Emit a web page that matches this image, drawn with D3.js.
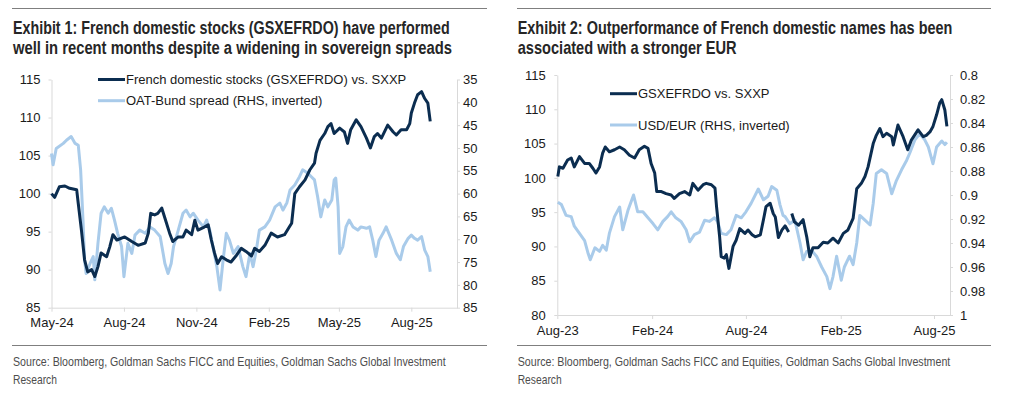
<!DOCTYPE html>
<html lang="en">
<head>
	<meta charset="utf-8">
	<title>French domestic stocks</title>
	<script src="https://d3js.org/d3.v7.min.js"></script>
	<style type="text/css">
		body { margin: 0; background: #fff; }
		svg { display: block; }
		.tick text { font-family: "Liberation Sans", Arial, sans-serif; font-size: 13px; fill: #1a1a1a; }
		.domain, .tick line { stroke: #d9d9d9; }
		.title { font-family: "Liberation Sans Narrow", "Liberation Sans", Arial, sans-serif; font-weight: bold; font-size: 17.5px; fill: #262626; }
		.source { font-family: "Liberation Sans Narrow", "Liberation Sans", Arial, sans-serif; font-size: 13px; fill: #4d4d4d; }
		.legend { font-family: "Liberation Sans", Arial, sans-serif; font-size: 13px; fill: #1a1a1a; }
	</style>
</head>
<body>
	<script type="text/javascript">

		//Exhibit 1: French domestic stocks (GSXEFRDO) vs. SXXP
		var fraDates = ["2024-05-01","2024-05-05","2024-05-11","2024-05-18","2024-05-24","2024-06-02","2024-06-04","2024-06-08","2024-06-12","2024-06-16",
			"2024-06-21","2024-06-25","2024-06-29","2024-07-03","2024-07-10","2024-07-14","2024-07-18","2024-07-23","2024-08-02","2024-08-11",
			"2024-08-19","2024-08-28","2024-09-01","2024-09-04","2024-09-09","2024-09-13","2024-09-18","2024-09-22","2024-09-28","2024-10-02",
			"2024-10-09","2024-10-15","2024-10-19","2024-10-26","2024-10-30","2024-11-03","2024-11-11","2024-11-16","2024-11-20","2024-11-24",
			"2024-11-28","2024-12-03","2024-12-09","2024-12-15","2024-12-22","2024-12-28","2025-01-03","2025-01-10","2025-01-14","2025-01-20",
			"2025-01-27","2025-02-04","2025-02-12","2025-02-21","2025-02-27","2025-03-02","2025-03-06","2025-03-12","2025-03-19","2025-03-25",
			"2025-03-31","2025-04-02","2025-04-07","2025-04-13","2025-04-17","2025-04-21","2025-04-25","2025-05-02","2025-05-08","2025-05-12",
			"2025-05-16","2025-05-23","2025-05-29","2025-06-05","2025-06-10","2025-06-15","2025-06-19","2025-06-24","2025-07-02","2025-07-09",
			"2025-07-13","2025-07-19","2025-07-26","2025-07-30","2025-08-01","2025-08-05","2025-08-09","2025-08-14","2025-08-18","2025-08-22",
			"2025-08-25"];
		var fraValues = [100.0,99.5,100.9,101.0,100.7,100.5,98.7,95.2,91.3,89.7,
			90.0,89.1,90.4,92.2,91.7,93.0,94.6,93.9,94.3,93.7,
			93.2,93.5,94.8,97.4,97.2,97.4,98.1,96.8,94.8,93.7,
			94.3,94.3,95.2,94.6,96.5,95.2,95.6,95.9,93.9,92.2,
			90.8,91.7,91.3,91.0,91.9,92.8,92.4,91.8,92.8,92.4,
			93.2,94.8,94.3,94.6,95.6,96.1,100.0,100.9,101.8,103.1,
			104.0,105.3,107.0,107.9,108.8,109.2,107.9,108.6,108.1,106.6,
			108.4,109.7,108.8,107.3,106.0,107.5,107.9,107.3,109.0,108.1,
			107.7,108.4,108.4,109.2,110.6,111.9,113.0,113.4,112.5,111.9,
			109.5];

		//OAT-Bund spread (RHS, inverted)
		var oatDates = ["2024-05-01","2024-05-03","2024-05-07","2024-05-16","2024-05-20","2024-05-26","2024-05-31","2024-06-04","2024-06-07","2024-06-10",
			"2024-06-12","2024-06-14","2024-06-19","2024-06-23","2024-06-25","2024-06-29","2024-07-03","2024-07-07","2024-07-12","2024-07-16",
			"2024-07-20","2024-07-24","2024-07-29","2024-08-01","2024-08-06","2024-08-11","2024-08-15","2024-08-21","2024-08-28","2024-09-03",
			"2024-09-09","2024-09-16","2024-09-22","2024-09-26","2024-09-30","2024-10-03","2024-10-09","2024-10-15","2024-10-19","2024-10-24",
			"2024-10-28","2024-11-03","2024-11-10","2024-11-14","2024-11-18","2024-11-22","2024-11-27","2024-12-01","2024-12-05","2024-12-09",
			"2024-12-13","2024-12-18","2024-12-24","2024-12-30","2025-01-03","2025-01-08","2025-01-12","2025-01-16","2025-01-20","2025-01-27",
			"2025-02-02","2025-02-09","2025-02-15","2025-02-19","2025-02-24","2025-02-28","2025-03-06","2025-03-12","2025-03-16","2025-03-23",
			"2025-03-27","2025-03-31","2025-04-04","2025-04-08","2025-04-13","2025-04-17","2025-04-22","2025-04-25","2025-04-27","2025-04-30",
			"2025-05-02","2025-05-06","2025-05-10","2025-05-14","2025-05-19","2025-05-25","2025-05-29","2025-06-05","2025-06-09","2025-06-13",
			"2025-06-17","2025-06-21","2025-06-26","2025-06-30","2025-07-07","2025-07-13","2025-07-18","2025-07-22","2025-07-28","2025-08-01",
			"2025-08-05","2025-08-09","2025-08-14","2025-08-18","2025-08-22","2025-08-25"];
		var oatValues = [51.2,53.7,50.1,49.0,48.3,47.5,49.0,49.4,54.8,65.8,
			74.5,77.5,75.3,73.8,78.9,70.9,64.3,62.9,64.3,63.2,
			65.8,68.7,71.6,78.2,70.9,73.1,69.1,68.0,68.7,67.3,
			68.0,69.4,75.3,77.5,75.3,71.6,68.0,64.3,63.6,65.1,
			64.3,65.8,67.3,65.8,68.0,71.6,76.0,81.1,74.5,68.7,
			70.2,73.1,71.6,76.0,78.2,73.1,76.0,72.5,68.0,67.3,
			65.8,62.9,62.1,63.6,62.0,59.2,58.1,56.3,54.8,55.6,
			56.3,57.0,60.7,65.1,61.4,62.9,61.4,57.0,56.6,62.9,
			73.1,71.6,67.3,65.8,67.3,68.0,67.3,67.6,67.3,70.2,
			73.8,70.2,68.7,67.3,70.2,73.1,74.5,71.6,69.8,69.1,
			69.8,70.2,69.4,72.4,73.8,77.1];

		//Exhibit 2: GSXEFRDO vs. SXXP (null = gap in the series)
		var gsxDates = ["2023-08-02","2023-08-05","2023-08-12","2023-08-21","2023-08-28","2023-09-03","2023-09-13","2023-09-23","2023-10-02","2023-10-09",
			"2023-10-15","2023-10-22","2023-10-28","2023-11-02","2023-11-10","2023-11-20","2023-11-30","2023-12-09","2023-12-19","2023-12-29",
			"2024-01-07","2024-01-17","2024-01-24","2024-01-30","2024-02-06","2024-02-10","2024-02-19","2024-02-28","2024-03-09","2024-03-15",
			"2024-03-25","2024-04-04","2024-04-14","2024-04-20","2024-04-30","2024-05-10","2024-05-16","2024-05-26","2024-06-02","2024-06-05",
			"2024-06-11","2024-06-14","2024-06-20","2024-06-24","2024-06-29","2024-07-07","2024-07-13","2024-07-20","2024-07-30","2024-08-05",
			"2024-08-13","2024-08-19","2024-08-29","2024-09-04","2024-09-09","2024-09-17","2024-09-23","2024-09-27","2024-10-03","2024-10-10",
			"2024-10-16","2024-10-23","2024-10-26","2024-10-29","2024-11-03","2024-11-11","2024-11-20","2024-11-27","2024-12-03","2024-12-09",
			"2024-12-19","2024-12-29","2025-01-07","2025-01-17","2025-01-27","2025-02-06","2025-02-15","2025-02-25","2025-03-04","2025-03-13",
			"2025-03-20","2025-03-26","2025-04-05","2025-04-11","2025-04-18","2025-04-24","2025-05-01","2025-05-11","2025-05-14","2025-05-23",
			"2025-06-02","2025-06-11","2025-06-18","2025-07-01","2025-07-11","2025-07-17","2025-07-24","2025-07-30","2025-08-06","2025-08-12",
			"2025-08-16","2025-08-22","2025-08-26"];
		var gsxValues = [100.2,101.6,101.4,102.6,102.9,101.6,103.1,102.1,102.1,101.4,
			100.7,101.6,103.6,104.5,103.8,104.1,104.5,104.1,103.3,102.9,
			104.1,104.6,104.3,102.1,100.7,98.0,98.0,97.7,97.5,97.0,
			97.7,98.0,97.5,99.2,98.2,99.0,99.2,99.0,98.5,95.8,
			91.4,88.5,88.3,88.8,86.8,90.0,90.9,92.6,91.9,92.4,
			91.7,91.4,91.7,93.9,95.8,96.3,94.8,94.3,91.3,92.4,
			93.0,92.1,null,94.8,93.6,93.1,93.9,91.4,88.5,89.8,
			89.8,90.6,90.5,91.2,90.5,91.9,92.4,94.1,98.4,99.2,
			100.2,101.6,105.0,106.2,107.2,106.0,106.5,106.0,104.8,107.7,
			106.0,104.1,105.5,107.0,106.0,106.2,106.7,107.5,109.2,110.9,
			111.4,109.9,107.5];

		//USD/EUR (RHS, inverted)
		var usdDates = ["2023-08-02","2023-08-09","2023-08-18","2023-08-28","2023-09-03","2023-09-13","2023-09-23","2023-09-30","2023-10-04","2023-10-13",
			"2023-10-22","2023-10-28","2023-11-04","2023-11-10","2023-11-20","2023-11-30","2023-12-06","2023-12-16","2023-12-27","2024-01-04",
			"2024-01-14","2024-01-24","2024-02-03","2024-02-12","2024-02-22","2024-03-02","2024-03-09","2024-03-18","2024-03-28","2024-04-07",
			"2024-04-14","2024-04-23","2024-05-03","2024-05-13","2024-05-22","2024-06-01","2024-06-07","2024-06-14","2024-06-24","2024-07-03",
			"2024-07-13","2024-07-23","2024-08-01","2024-08-11","2024-08-25","2024-09-04","2024-09-13","2024-09-20","2024-09-30","2024-10-06",
			"2024-10-12","2024-10-16","2024-10-25","2024-11-04","2024-11-14","2024-11-20","2024-11-27","2024-12-06","2024-12-16","2024-12-26",
			"2025-01-05","2025-01-11","2025-01-17","2025-01-24","2025-02-02","2025-02-08","2025-02-18","2025-02-25","2025-03-04","2025-03-10",
			"2025-03-20","2025-03-30","2025-04-05","2025-04-11","2025-04-21","2025-05-01","2025-05-11","2025-05-20","2025-05-30","2025-06-09",
			"2025-06-15","2025-06-25","2025-07-04","2025-07-14","2025-07-21","2025-07-30","2025-08-06","2025-08-16","2025-08-22","2025-08-26"];
		var usdValues = [0.906,0.908,0.917,0.918,0.926,0.932,0.938,0.949,0.954,0.944,
			0.947,0.942,0.946,0.932,0.918,0.910,0.929,0.913,0.900,0.914,
			0.914,0.919,0.924,0.929,0.922,0.918,0.914,0.919,0.922,0.929,
			0.939,0.933,0.931,0.921,0.922,0.919,0.922,0.932,0.933,0.929,
			0.917,0.919,0.914,0.907,0.895,0.904,0.901,0.893,0.896,0.908,
			0.917,0.918,0.924,0.921,0.940,0.954,0.947,0.946,0.951,0.960,
			0.968,0.978,0.968,0.951,0.971,0.960,0.951,0.958,0.940,0.917,
			0.921,0.925,0.907,0.882,0.879,0.882,0.899,0.888,0.879,0.871,
			0.865,0.854,0.849,0.854,0.860,0.874,0.860,0.855,0.858,0.856];

		//Tick labels
		var p1LeftTicks = [85, 90, 95, 100, 105, 110, 115];
		var p1RightTicks = [35, 40, 45, 50, 55, 60, 65, 70, 75, 80, 85];
		var p1DateTicks = ["2024-05-01","2024-08-01","2024-11-01","2025-02-01","2025-05-01","2025-08-01"];
		var p2LeftTicks = [80, 85, 90, 95, 100, 105, 110, 115];
		var p2RightTicks = [0.8, 0.82, 0.84, 0.86, 0.88, 0.9, 0.92, 0.94, 0.96, 0.98, 1];
		var p2DateTicks = ["2023-08-01","2024-02-01","2024-08-01","2025-02-01","2025-08-01"];

		var sourceLines = ["Source: Bloomberg, Goldman Sachs FICC and Equities, Goldman Sachs Global Investment", "Research"];

		var dark = "#0b2d50";
		var light = "#a9cbea";

		var parseDate = d3.timeParse("%Y-%m-%d");

		function zip(dates, values) {
			return dates.map(function(d, i) { return { date: parseDate(d), value: values[i] }; });
		}

		//squeeze a text horizontally so it spans the given width (condensed look)
		function fitText(sel, x, y, width) {
			var w = sel.node().getComputedTextLength();
			sel.attr("transform", "translate(" + x + "," + y + ") scale(" + (width / w) + ",1)");
		}

		var svg = d3.select("body")
					.append("svg")
					.attr("width", 1012)
					.attr("height", 394);

		function drawPanel(p) {
			var g = svg.append("g");

			//Rules above title and below chart
			g.append("line").attr("x1", p.ruleX1).attr("x2", p.ruleX2).attr("y1", 8.5).attr("y2", 8.5)
			 .attr("stroke", "#7f7f7f").attr("stroke-width", 1);
			g.append("line").attr("x1", p.ruleX1).attr("x2", p.ruleX2).attr("y1", 345.5).attr("y2", 345.5)
			 .attr("stroke", "#7f7f7f").attr("stroke-width", 1);

			//Title
			p.title.forEach(function(t, i) {
				var tt = g.append("text").attr("class", "title").text(t);
				fitText(tt, p.textX, 33.5 + i * 20, p.titleLen[i]);
			});

			//Source
			sourceLines.forEach(function(t, i) {
				var st = g.append("text").attr("class", "source").text(t);
				fitText(st, p.textX, 366 + i * 17.5, i == 0 ? 433 : 44);
			});

			//Scales
			var x = d3.scaleTime().domain(p.xDomain.map(parseDate)).range([p.left, p.right]);
			var yL = d3.scaleLinear().domain(p.leftDomain).range([p.bottom, p.top]);
			var yR = d3.scaleLinear().domain(p.rightDomain).range([p.bottom, p.top]);

			//Axes
			g.append("g").attr("transform", "translate(" + p.left + ",0)")
			 .call(d3.axisLeft(yL).tickValues(p.leftTicks).tickSize(3).tickSizeOuter(0).tickPadding(p.leftPad));
			g.append("g").attr("transform", "translate(" + p.right + ",0)")
			 .call(d3.axisRight(yR).tickValues(p.rightTicks).tickSize(3).tickSizeOuter(0).tickPadding(p.rightPad)
			 .tickFormat(d3.format("~g")));
			g.append("g").attr("transform", "translate(0," + p.bottom + ")")
			 .call(d3.axisBottom(x).tickValues(p.dateTicks.map(parseDate)).tickSize(4).tickSizeOuter(0)
			 .tickPadding(p.bottomPad).tickFormat(d3.timeFormat("%b-%y")));

			//Lines: secondary series first, primary on top
			var lineR = d3.line().defined(function(d) { return d.value != null; })
				.x(function(d) { return x(d.date); }).y(function(d) { return yR(d.value); });
			var lineL = d3.line().defined(function(d) { return d.value != null; })
				.x(function(d) { return x(d.date); }).y(function(d) { return yL(d.value); });

			g.append("path").datum(p.rightData).attr("d", lineR)
			 .attr("fill", "none").attr("stroke", light).attr("stroke-width", 3).attr("stroke-linejoin", "round");
			g.append("path").datum(p.leftData).attr("d", lineL)
			 .attr("fill", "none").attr("stroke", dark).attr("stroke-width", 3).attr("stroke-linejoin", "round");

			//Legend
			p.legend.forEach(function(l, i) {
				var ly = p.legendY[i];
				g.append("line").attr("x1", p.legendX).attr("x2", p.legendX + 27).attr("y1", ly).attr("y2", ly)
				 .attr("stroke", l.color).attr("stroke-width", 3);
				g.append("text").attr("class", "legend").attr("x", p.legendX + 28).attr("y", ly + 4.7).text(l.label);
			});
		}

		drawPanel({
			ruleX1: 12, ruleX2: 487, textX: 13,
			title: ["Exhibit 1: French domestic stocks (GSXEFRDO) have performed", "well in recent months despite a widening in sovereign spreads"],
			titleLen: [437, 439],
			left: 51.5, right: 457, top: 79.5, bottom: 307.7,
			xDomain: ["2024-05-01", "2025-09-28"],
			leftDomain: [85, 115], rightDomain: [85, 35],
			leftTicks: p1LeftTicks, rightTicks: p1RightTicks, dateTicks: p1DateTicks,
			leftPad: 8, rightPad: 3, bottomPad: 6,
			leftData: zip(fraDates, fraValues), rightData: zip(oatDates, oatValues),
			legendX: 98, legendY: [79.5, 100.7],
			legend: [{ label: "French domestic stocks (GSXEFRDO) vs. SXXP", color: dark },
					 { label: "OAT-Bund spread (RHS, inverted)", color: light }]
		});

		drawPanel({
			ruleX1: 517, ruleX2: 991, textX: 517.7,
			title: ["Exhibit 2: Outperformance of French domestic names has been", "associated with a stronger EUR"],
			titleLen: [435, 219],
			left: 557.3, right: 950, top: 75, bottom: 315,
			xDomain: ["2023-08-01", "2025-09-01"],
			leftDomain: [80, 115], rightDomain: [1, 0.8],
			leftTicks: p2LeftTicks, rightTicks: p2RightTicks, dateTicks: p2DateTicks,
			leftPad: 8.5, rightPad: 7, bottomPad: 7,
			leftData: zip(gsxDates, gsxValues), rightData: zip(usdDates, usdValues),
			legendX: 610, legendY: [93.7, 125],
			legend: [{ label: "GSXEFRDO vs. SXXP", color: dark },
					 { label: "USD/EUR (RHS, inverted)", color: light }]
		});

	</script>
</body>
</html>
